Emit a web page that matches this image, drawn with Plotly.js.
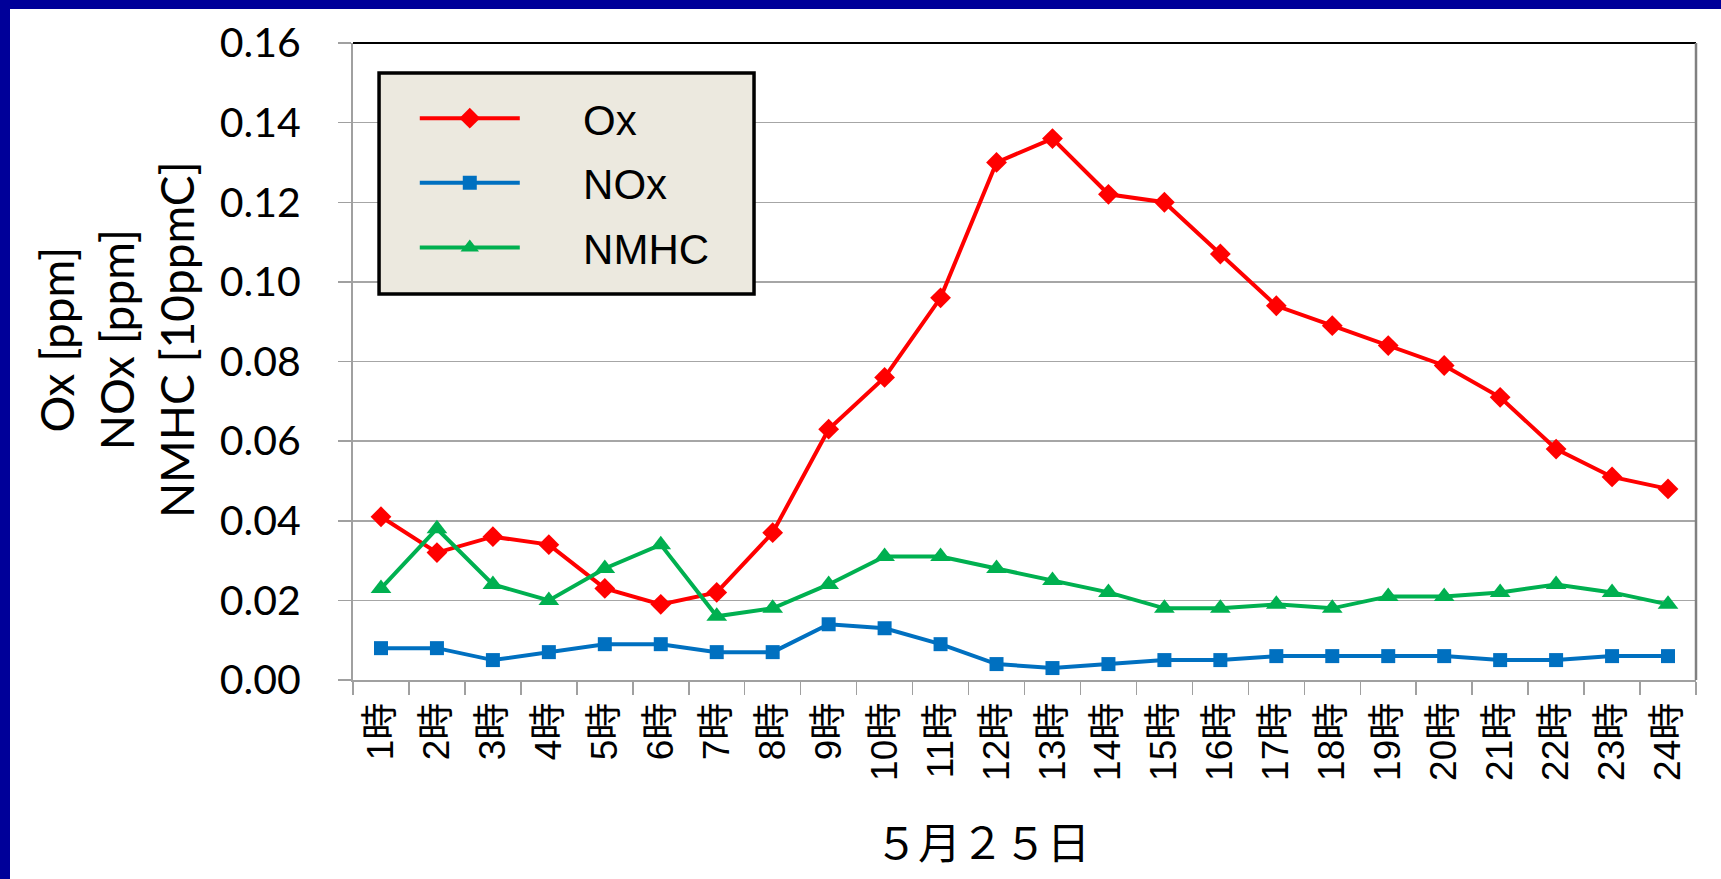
<!DOCTYPE html>
<html>
<head>
<meta charset="utf-8">
<script src="https://cdn.plot.ly/plotly-3.0.1.min.js"></script>
<style>
html,body{margin:0;padding:0;background:#000099;}
#frame{position:absolute;left:0;top:0;width:1721px;height:879px;background:#000099;overflow:hidden;}
#plot{position:absolute;left:10px;top:9px;width:1711px;height:870px;background:#ffffff;}
</style>
</head>
<body>
<div id="frame"><div id="plot"></div></div>
<script>
const hours = ["1時","2時","3時","4時","5時","6時","7時","8時","9時","10時","11時","12時",
               "13時","14時","15時","16時","17時","18時","19時","20時","21時","22時","23時","24時"];
const ox   = [0.041,0.032,0.036,0.034,0.023,0.019,0.022,0.037,0.063,0.076,0.096,0.130,
              0.136,0.122,0.120,0.107,0.094,0.089,0.084,0.079,0.071,0.058,0.051,0.048];
const nox  = [0.008,0.008,0.005,0.007,0.009,0.009,0.007,0.007,0.014,0.013,0.009,0.004,
              0.003,0.004,0.005,0.005,0.006,0.006,0.006,0.006,0.005,0.005,0.006,0.006];
const nmhc = [0.023,0.038,0.024,0.020,0.028,0.034,0.016,0.018,0.024,0.031,0.031,0.028,
              0.025,0.022,0.018,0.018,0.019,0.018,0.021,0.021,0.022,0.024,0.022,0.019];
const seriesNames = ["Ox","NOx","NMHC"];
const yTitle = "Ox [ppm]<br>NOx [ppm]<br>NMHC [10ppmC]";
const xTitle = "５月２５日";

const pad = "&nbsp;&nbsp;&nbsp;&nbsp;&nbsp;";
const traces = [
  {x: hours, y: ox, name: pad + seriesNames[0], type: 'scatter', mode: 'lines+markers', legendgroup: 'a',
   line: {color: '#FF0000', width: 4}, marker: {symbol: 'diamond', size: 16, color: '#FF0000'}},
  {x: hours, y: nox, name: pad + seriesNames[1], type: 'scatter', mode: 'lines+markers', legendgroup: 'b',
   line: {color: '#0070C0', width: 4}, marker: {symbol: 'square', size: 14, color: '#0070C0'}},
  {x: hours, y: nmhc, name: pad + seriesNames[2], type: 'scatter', mode: 'lines+markers', legendgroup: 'c',
   line: {color: '#00B050', width: 4}, marker: {symbol: 'triangle-up', size: 18, color: '#00B050'}}
];

const layout = {
  width: 1711, height: 870,
  margin: {l: 343, r: 25, t: 34, b: 199},
  paper_bgcolor: '#ffffff', plot_bgcolor: '#ffffff',
  showlegend: true,
  legend: {
    x: 0.046, y: 0.935, xanchor: 'left', yanchor: 'top',
    bgcolor: 'rgba(0,0,0,0)', borderwidth: 0,
    font: {family: 'Liberation Sans, Arial, sans-serif', size: 42, color: '#000'},
    itemwidth: 100, tracegroupgap: 7, traceorder: 'grouped'
  },
  xaxis: {
    type: 'category', range: [-0.5, 23.5],
    ticks: 'outside', tickson: 'boundaries', ticklen: 13, tickcolor: '#a0a0a0', tickwidth: 1.5,
    showline: true, linecolor: '#a0a0a0', linewidth: 2, showgrid: false, zeroline: false,
    tickangle: -90, ticklabelstandoff: 6,
    tickfont: {family: 'Liberation Sans, Noto Sans CJK JP, sans-serif', size: 37, color: '#000'}
  },
  yaxis: {
    range: [0, 0.16], dtick: 0.02, tick0: 0, tickformat: '.2f',
    ticks: 'outside', ticklen: 13, tickcolor: '#a0a0a0', tickwidth: 1.5,
    showline: true, linecolor: '#a0a0a0', linewidth: 2,
    showgrid: true, gridcolor: '#a6a6a6', gridwidth: 1.5, zeroline: false,
    ticklabelstandoff: 29,
    tickfont: {family: 'Lato, sans-serif', size: 41, color: '#000'}
  },
  shapes: [
    {type: 'line', xref: 'paper', yref: 'paper', x0: 0, x1: 1, y0: 1, y1: 1, line: {color: '#000', width: 2}},
    {type: 'line', xref: 'paper', yref: 'paper', x0: 1, x1: 1, y0: 0, y1: 1, line: {color: '#808080', width: 2.5}},
    {type: 'rect', xref: 'paper', yref: 'paper', layer: 'above',
     x0: 0.0194, x1: 0.2986, y0: 0.606, y1: 0.953, fillcolor: '#ECE9DF', line: {color: '#000', width: 3.5}}
  ],
  annotations: [
    {text: yTitle, xref: 'paper', yref: 'paper', x: -0.1757, y: 0.5338, xanchor: 'center', yanchor: 'middle',
     textangle: -90, showarrow: false, font: {family: 'Lato, sans-serif', size: 46, color: '#000'}},
    {text: xTitle, xref: 'paper', yref: 'paper', x: 0.4684, y: -0.2512, xanchor: 'center', yanchor: 'middle',
     showarrow: false, font: {family: 'Noto Sans CJK JP, sans-serif', size: 43, color: '#000'}}
  ]
};

Plotly.newPlot('plot', traces, layout, {displayModeBar: false, staticPlot: true});
</script>
</body>
</html>
